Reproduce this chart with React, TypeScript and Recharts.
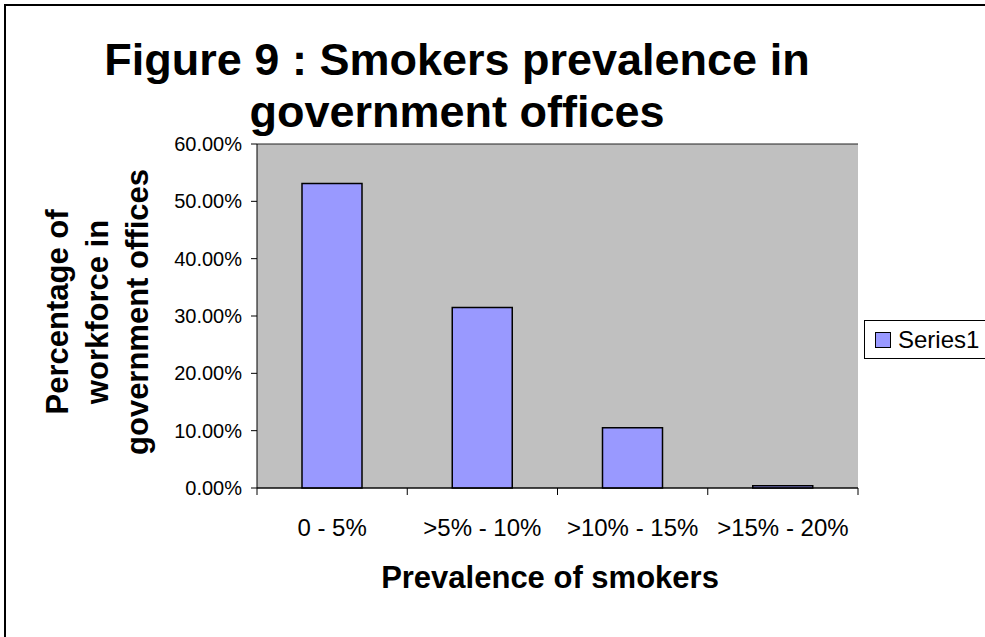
import { BarChart, Bar, XAxis, YAxis, CartesianGrid, Legend } from 'recharts'

const categories = ['0 - 5%', '>5% - 10%', '>10% - 15%', '>15% - 20%']
const series1 = [0.531, 0.315, 0.105, 0.004]
const yTicks = [0, 0.1, 0.2, 0.3, 0.4, 0.5, 0.6]

const data = categories.map((name, i) => ({ name, value: series1[i] }))

const FONT = '"Liberation Sans", Arial, sans-serif'

// Excel style: tick marks sit between categories, labels centred under bars
function CategoryTick(props: any) {
  const { x, y, payload, width, index } = props
  const band = width / categories.length
  const left = x - band / 2
  const last = index === categories.length - 1
  return (
    <g>
      <line x1={left} y1={y} x2={left} y2={y + 7} stroke="#000" />
      {last && <line x1={x + band / 2} y1={y} x2={x + band / 2} y2={y + 7} stroke="#000" />}
      <text x={x} y={y + 48} textAnchor="middle" fontSize={24} fontFamily={FONT} fill="#000">
        {payload.value}
      </text>
    </g>
  )
}

function LegendBox() {
  return (
    <div
      style={{
        border: '1px solid #000',
        background: '#fff',
        height: 39,
        display: 'flex',
        alignItems: 'center',
        paddingLeft: 10,
        fontFamily: FONT,
        fontSize: 24,
        boxSizing: 'border-box',
      }}
    >
      <span
        style={{
          display: 'inline-block',
          width: 14,
          height: 14,
          background: '#9999FF',
          border: '1px solid #000',
          marginRight: 7,
        }}
      />
      Series1
    </div>
  )
}

export default function App() {
  return (
    <div
      style={{
        position: 'absolute',
        left: 0,
        top: 0,
        width: 985,
        height: 637,
        overflow: 'hidden',
        background: '#fff',
        fontFamily: FONT,
      }}
    >
      <div
        style={{
          position: 'absolute',
          left: 4,
          top: 4,
          width: 1100,
          height: 800,
          border: '2px solid #000',
        }}
      />
      <div
        style={{
          position: 'absolute',
          left: 0,
          top: 34,
          width: 914,
          textAlign: 'center',
          fontWeight: 'bold',
          fontSize: 45,
          lineHeight: '52px',
        }}
      >
        Figure 9 : Smokers prevalence in
        <br />
        government offices
      </div>
      <div
        style={{
          position: 'absolute',
          left: -52,
          top: 252,
          width: 300,
          height: 120,
          transform: 'rotate(-90deg)',
          textAlign: 'center',
          fontWeight: 'bold',
          fontSize: 31,
          lineHeight: '40px',
        }}
      >
        Percentage of
        <br />
        workforce in
        <br />
        government offices
      </div>
      <div
        style={{
          position: 'absolute',
          left: 350,
          top: 560,
          width: 400,
          textAlign: 'center',
          fontWeight: 'bold',
          fontSize: 31,
          lineHeight: '36px',
        }}
      >
        Prevalence of smokers
      </div>
      <div style={{ position: 'absolute', left: 0, top: 0 }}>
        <BarChart
          width={985}
          height={637}
          data={data}
          margin={{ top: 144, right: 127, bottom: 89, left: 167 }}
        >
          <CartesianGrid vertical={false} stroke="#222" fill="#C0C0C0" fillOpacity={1} />
          <XAxis
            dataKey="name"
            height={60}
            tickSize={0}
            tickMargin={0}
            tickLine={false}
            axisLine={{ stroke: '#000' }}
            tick={<CategoryTick />}
            interval={0}
          />
          <YAxis
            yAxisId="left"
            width={90}
            domain={[0, 0.6]}
            ticks={yTicks}
            tickFormatter={(v: number) => (v * 100).toFixed(2) + '%'}
            tick={{ fill: '#000', fontSize: 20, fontFamily: FONT }}
            tickSize={6}
            tickMargin={9}
            tickLine={{ stroke: '#000' }}
            axisLine={{ stroke: '#000' }}
          />
          <YAxis
            yAxisId="right"
            orientation="right"
            width={0}
            domain={[0, 0.6]}
            tick={false}
            tickLine={false}
            axisLine={{ stroke: '#808080' }}
          />
          <Legend
            layout="horizontal"
            verticalAlign="middle"
            align="center"
            width={130}
            wrapperStyle={{ left: 864, top: 320, width: 130 }}
            content={() => <LegendBox />}
          />
          <Bar
            yAxisId="left"
            dataKey="value"
            name="Series1"
            fill="#9999FF"
            stroke="#000"
            strokeWidth={1.5}
            barSize={60}
            isAnimationActive={false}
          />
        </BarChart>
      </div>
    </div>
  )
}
